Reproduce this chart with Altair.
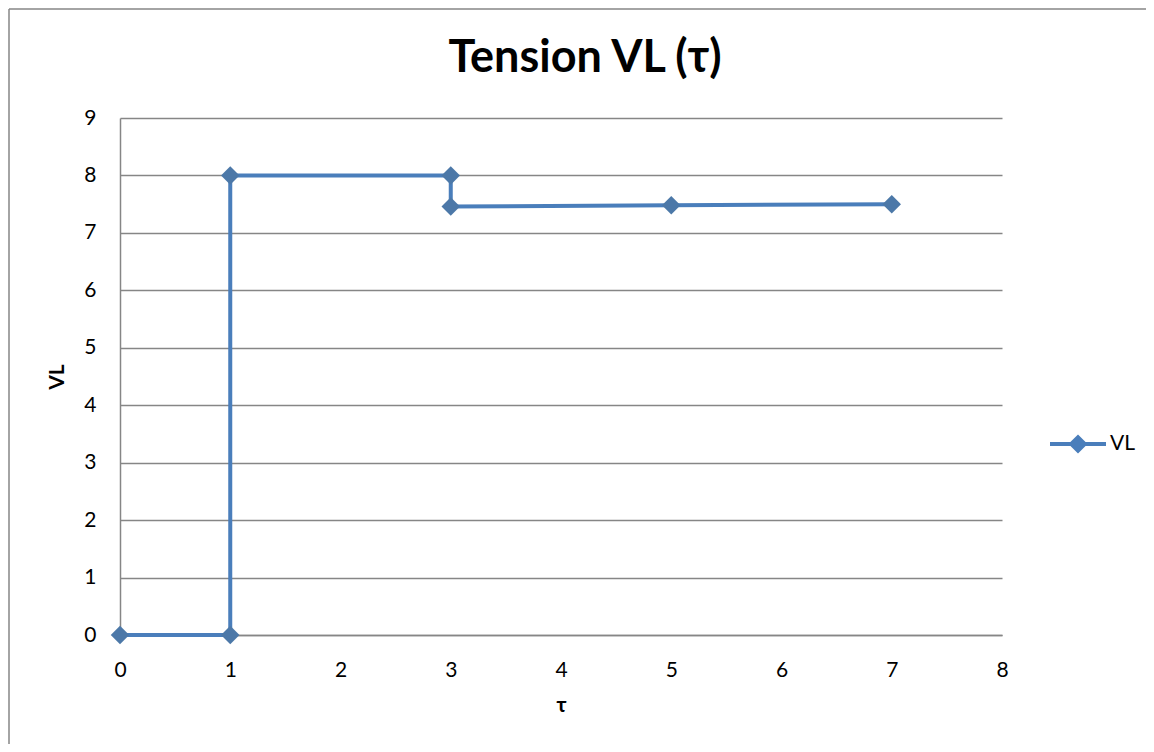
import altair as alt
import pandas as pd

tau = [0, 1, 1, 3, 3, 5, 7]
vl = [0, 0, 8, 8, 7.46, 7.48, 7.5]
order = list(range(len(tau)))
series = ["VL"] * len(tau)
title_text = ["Tension VL (τ)"]

df = pd.DataFrame({"tau": tau, "VL": vl, "order": order, "series": series})

BLUE = "#4A7EBB"
GRID = "#868686"
FONT = "Lato"

x_enc = alt.X("tau:Q", title="τ",
              scale=alt.Scale(domain=[0, 8], nice=False, zero=False),
              axis=alt.Axis(values=list(range(0, 9)), format="d", grid=False, ticks=False,
                            labelFlush=False, labelPadding=24, titlePadding=14,
                            domainColor=GRID, domainWidth=1.5))
y_enc = alt.Y("VL:Q", title="VL",
              scale=alt.Scale(domain=[0, 9], nice=False),
              axis=alt.Axis(values=list(range(0, 10)), format="d", grid=True, ticks=False,
                            labelFlush=False, gridColor=GRID, gridWidth=1.5, domainColor=GRID,
                            domainWidth=1.5, labelPadding=24, titlePadding=16))
color_enc = alt.Color("series:N", scale=alt.Scale(range=[BLUE]),
                      legend=alt.Legend(title=None, orient="none",
                                        legendX=928, legendY=296,
                                        symbolType="M-1,0L1,0M-0.24,0L0,-0.24L0.24,0L0,0.24Z",
                                        symbolSize=3136, symbolStrokeWidth=4,
                                        symbolFillColor=BLUE, symbolStrokeColor=BLUE,
                                        labelFontSize=21, labelFont=FONT,
                                        labelColor="black", labelOffset=2))

base = alt.Chart(df)
line = base.mark_line(strokeWidth=4).encode(x=x_enc, y=y_enc, color=color_enc, order="order:Q")
pts = base.mark_point(shape="diamond", filled=True, size=340, opacity=1).encode(
    x="tau:Q", y="VL:Q", color=alt.Color("series:N", legend=None))

one = pd.DataFrame({"t": title_text})
border = alt.Chart(one).mark_rule(color=GRID, strokeWidth=1.5).encode(
    x=alt.value(-111), x2=alt.value(1030), y=alt.value(-109), y2=alt.value(-109))
border2 = alt.Chart(one).mark_rule(color=GRID, strokeWidth=1.5).encode(
    x=alt.value(-111), x2=alt.value(-111), y=alt.value(-109), y2=alt.value(630))
title = alt.Chart(one).mark_text(font=FONT, fontSize=45, fontWeight="bold", color="black",
                                 align="center", baseline="middle").encode(
    text="t:N", x=alt.value(465), y=alt.value(-60))

chart = alt.layer(border, border2, title, line, pts).properties(
    width=882, height=517,
    autosize=alt.AutoSizeParams(type="none"),
    padding={"left": 112, "top": 110, "right": 144, "bottom": 109},
).configure_view(stroke=None).configure_axis(
    labelFont=FONT, labelFontSize=21, labelColor="black",
    titleFont=FONT, titleFontSize=21, titleFontWeight="bold", titleColor="black",
).resolve_scale(color="independent")

chart.save("out.html", embed_options={"renderer": "svg", "actions": False})
